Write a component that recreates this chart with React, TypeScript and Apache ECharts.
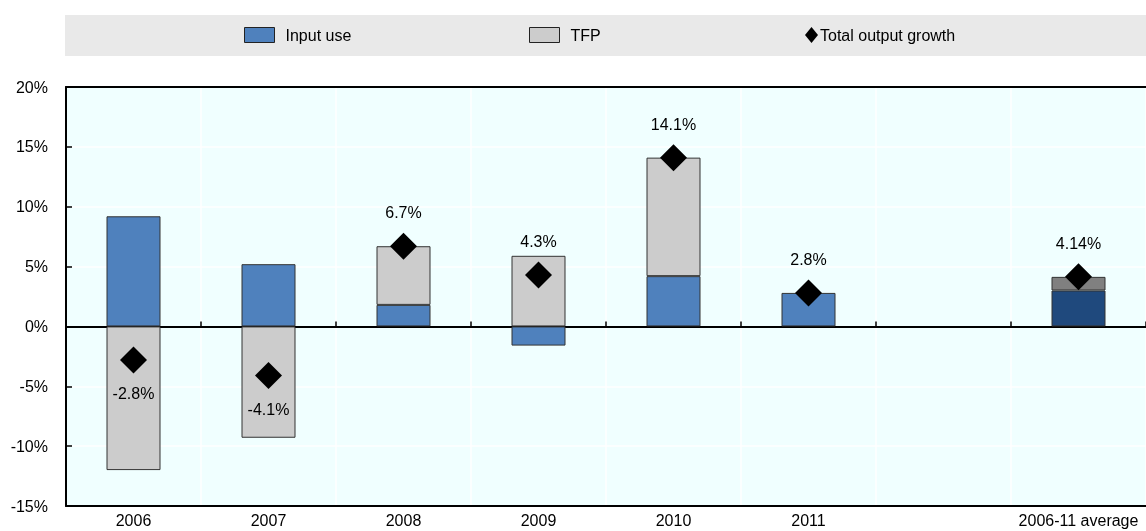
import React, { useEffect, useRef } from "react";
import * as echarts from "echarts";

const categories = ["2006", "2007", "2008", "2009", "2010", "2011", "", "2006-11 average"];
const inputUse: (number | null)[] = [9.2, 5.2, 1.8, -1.6, 4.2, 2.8, null, 3.0];
const tfp: (number | null)[] = [-12.0, -9.3, 4.9, 5.9, 9.9, null, null, 1.14];
const totalGrowth: (number | null)[] = [-2.8, -4.1, 6.7, 4.3, 14.1, 2.8, null, 4.14];
const yTicks = { min: -15, max: 20, interval: 5 };

const AVG = "2006-11 average";
const FONT = "'Liberation Sans', Arial, sans-serif";

export default function App() {
  const ref = useRef<HTMLDivElement>(null);
  useEffect(() => {
    if (!ref.current) return;
    const chart = echarts.init(ref.current, undefined, { renderer: "svg" });
    const barStyle = (base: string, avgColor: string) => (v: number | null, i: number) =>
      v == null
        ? "-"
        : {
            value: v,
            itemStyle: { color: categories[i] === AVG ? avgColor : base },
          };
    const legendText = (pad: number) => ({
      fontFamily: FONT,
      fontSize: 16,
      color: "#000",
      padding: [0, 0, 0, pad],
    });
    const option: any = {
      animation: false,
      textStyle: { fontFamily: FONT },
      graphic: [
        {
          type: "rect",
          shape: { x: 65, y: 15, width: 1090, height: 41 },
          style: { fill: "#e9e9e9" },
          z: -10,
        },
      ],
      legend: [
        {
          data: ["Input use"],
          left: 239,
          top: 22,
          itemWidth: 30,
          itemHeight: 15,
          icon: "rect",
          itemStyle: { borderColor: "#222", borderWidth: 1 },
          textStyle: legendText(6),
        },
        {
          data: ["TFP"],
          left: 524,
          top: 22,
          itemWidth: 30,
          itemHeight: 15,
          icon: "rect",
          itemStyle: { borderColor: "#222", borderWidth: 1 },
          textStyle: legendText(6),
        },
        {
          data: ["Total output growth"],
          left: 800,
          top: 22,
          itemWidth: 13,
          itemHeight: 16,
          icon: "diamond",
          itemStyle: { color: "#000", opacity: 1 },
          textStyle: legendText(-3),
        },
      ],
      grid: {
        left: 66,
        right: -7,
        top: 87,
        bottom: 25,
        show: true,
        backgroundColor: "#f0ffff",
        borderWidth: 0,
      },
      xAxis: [
        {
          type: "category",
          data: categories,
          position: "bottom",
          axisLine: { show: true, onZero: true, lineStyle: { color: "#000", width: 2 } },
          axisTick: { show: true, inside: true, length: 5, lineStyle: { color: "#000", width: 1.5 } },
          axisLabel: { show: false },
          splitLine: { show: true, lineStyle: { color: "#ffffff", width: 1.5 } },
        },
        {
          type: "category",
          data: categories,
          position: "bottom",
          axisLine: { show: true, onZero: false, lineStyle: { color: "#000", width: 2 } },
          axisTick: { show: false },
          axisLabel: { show: true, interval: 0, fontFamily: FONT, fontSize: 16, color: "#000", margin: 6 },
          splitLine: { show: false },
        },
        {
          type: "category",
          data: categories,
          position: "top",
          axisLine: { show: true, onZero: false, lineStyle: { color: "#000", width: 2 } },
          axisTick: { show: false },
          axisLabel: { show: false },
          splitLine: { show: false },
        },
      ],
      yAxis: {
        type: "value",
        min: yTicks.min,
        max: yTicks.max,
        interval: yTicks.interval,
        axisLine: { show: true, onZero: false, lineStyle: { color: "#000", width: 2 } },
        axisTick: { show: true, inside: true, length: 6, lineStyle: { color: "#000", width: 1.5 } },
        axisLabel: {
          formatter: (v: number) => `${v}%`,
          fontFamily: FONT,
          fontSize: 16,
          color: "#000",
          margin: 18,
        },
        splitLine: { show: true, showMinLine: false, showMaxLine: false, lineStyle: { color: "#ffffff", width: 1.5 } },
      },
      series: [
        {
          name: "Input use",
          type: "bar",
          stack: "total",
          barWidth: 54,
          data: inputUse.map(barStyle("#4f81bd", "#1f497d")),
          itemStyle: { color: "#4f81bd", borderColor: "#333", borderWidth: 1 },
        },
        {
          name: "TFP",
          type: "bar",
          stack: "total",
          barWidth: 54,
          data: tfp.map(barStyle("#cccccc", "#808080")),
          itemStyle: { color: "#cccccc", borderColor: "#333", borderWidth: 1 },
        },
        {
          name: "Total output growth",
          type: "scatter",
          symbol: "diamond",
          symbolSize: 27,
          z: 5,
          itemStyle: { color: "#000", opacity: 1 },
          data: totalGrowth.map((v) =>
            v == null
              ? "-"
              : {
                  value: v,
                  label: { position: v < 0 ? "bottom" : "top" },
                }
          ),
          label: {
            show: true,
            distance: 12,
            formatter: (p: any) => `${p.value}%`,
            fontFamily: FONT,
            fontSize: 16,
            color: "#000",
          },
        },
      ],
    };
    chart.setOption(option);
    return () => chart.dispose();
  }, []);
  return (
    <div
      ref={ref}
      style={{ position: "fixed", left: 0, top: 0, width: 1146, height: 531 }}
    />
  );
}
